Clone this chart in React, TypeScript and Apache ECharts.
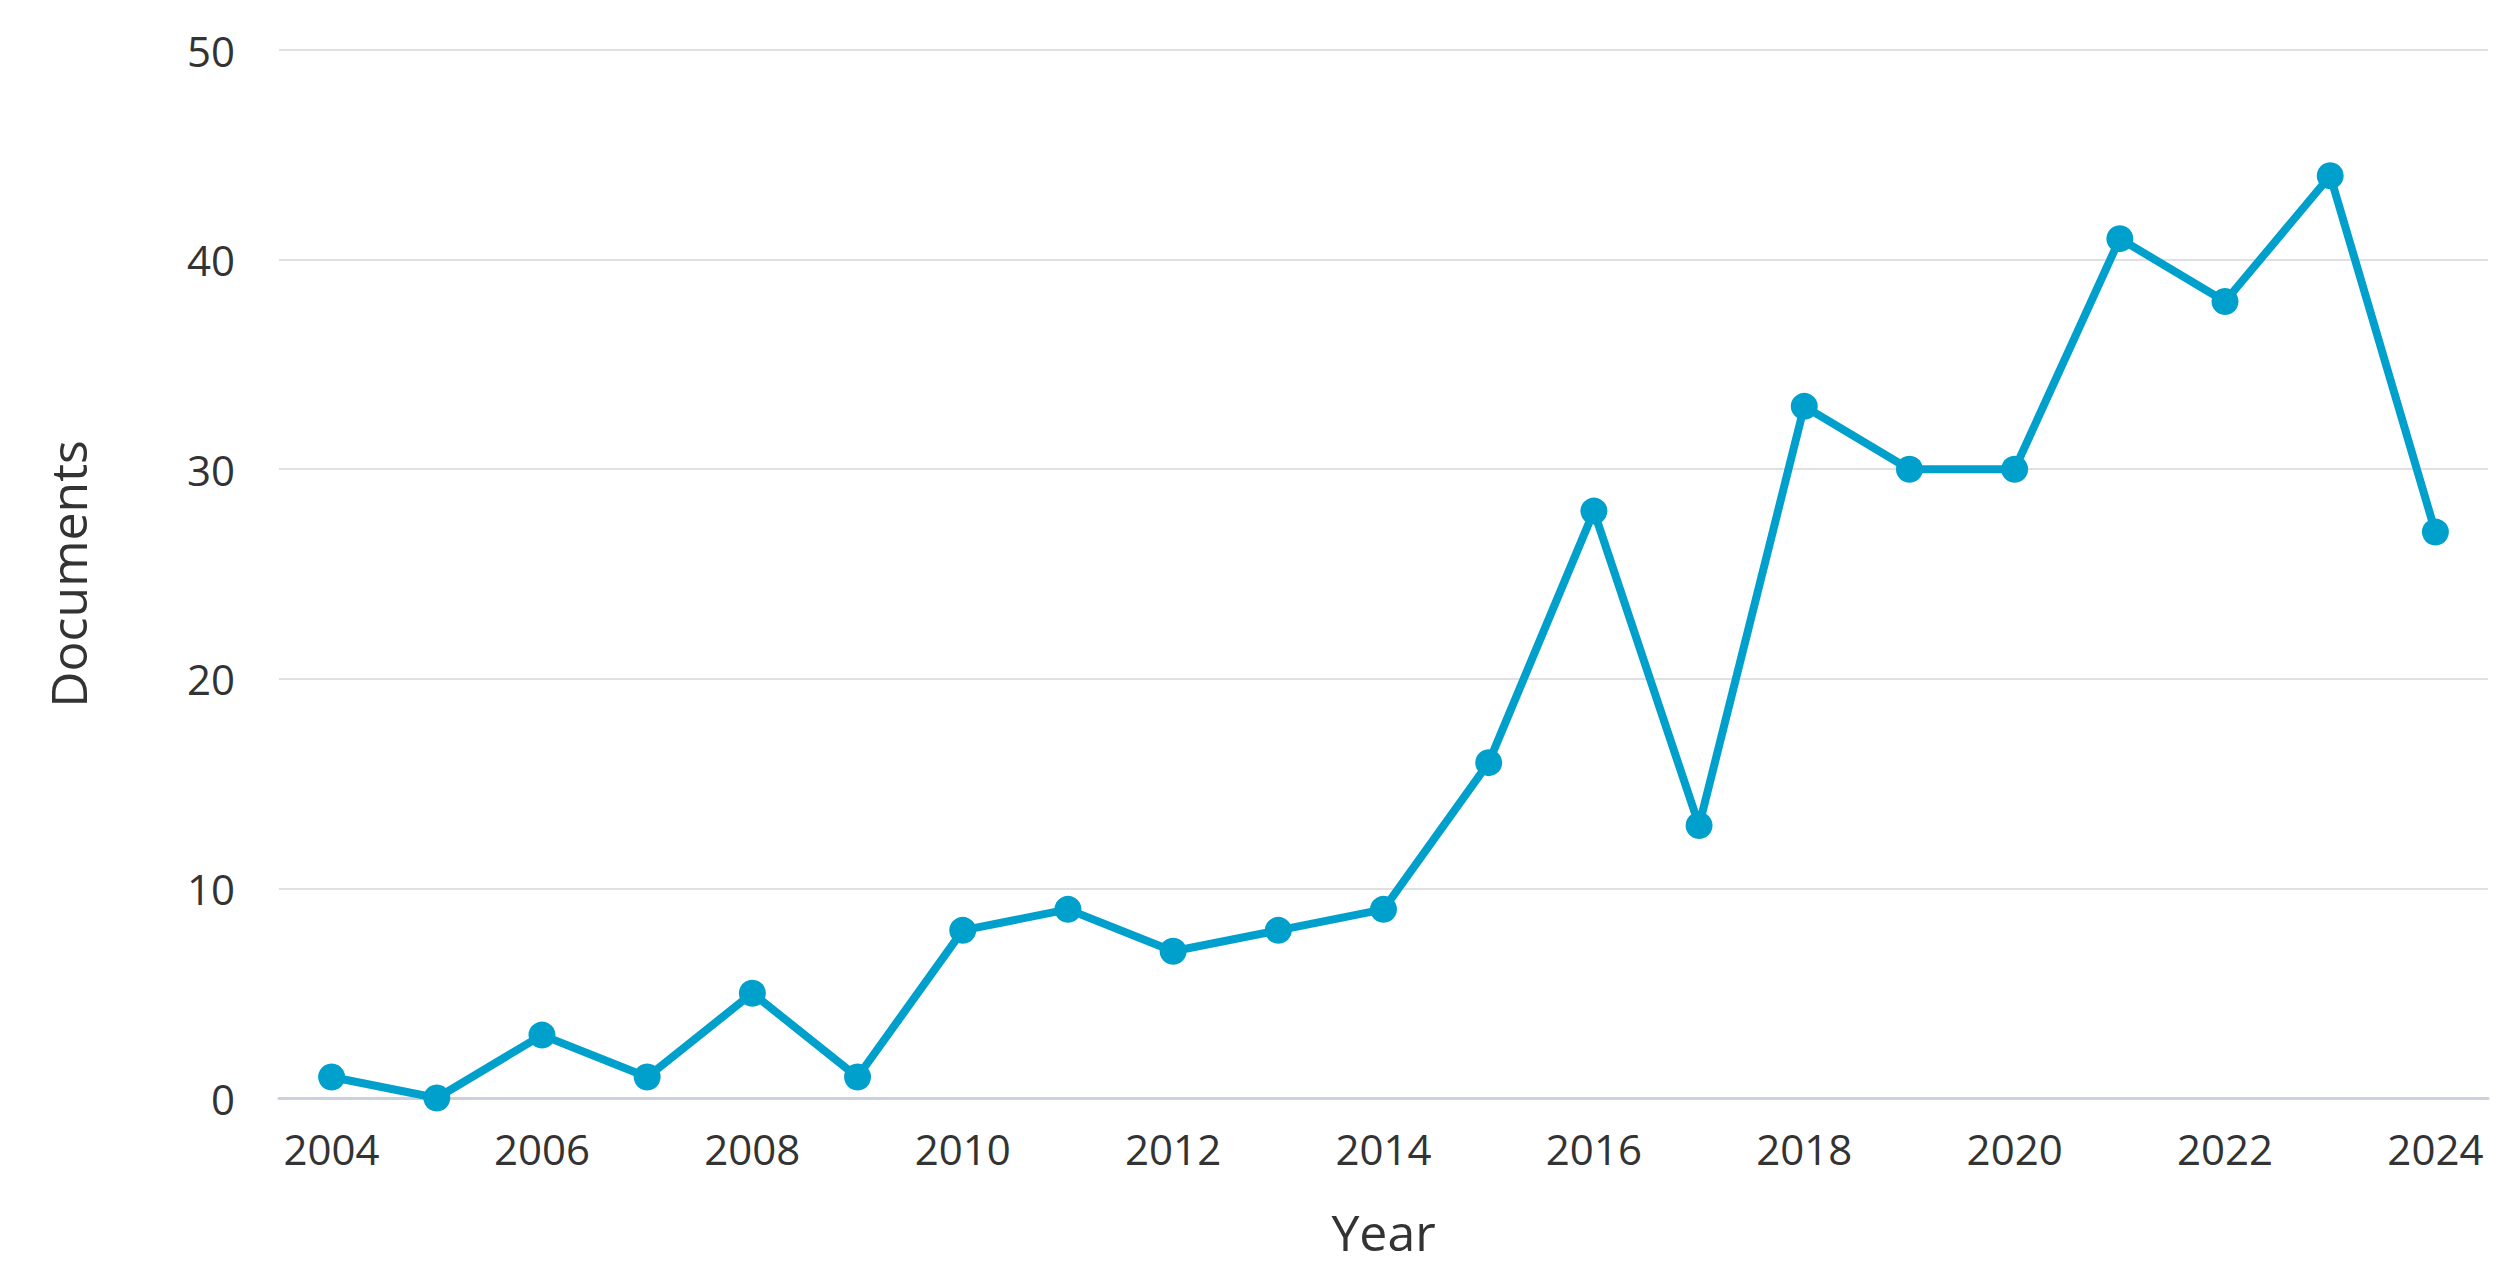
import React, { useEffect, useRef } from "react";
import * as echarts from "echarts";

const years = [
  "2004", "2005", "2006", "2007", "2008", "2009", "2010", "2011", "2012", "2013",
  "2014", "2015", "2016", "2017", "2018", "2019", "2020", "2021", "2022", "2023", "2024",
];
const documents = [1, 0, 3, 1, 5, 1, 8, 9, 7, 8, 9, 16, 28, 13, 33, 30, 30, 41, 38, 44, 27];
const yTicks = [0, 10, 20, 30, 40, 50];

const NUM_FONT = "'Open Sans', 'Noto Sans', sans-serif";
const NAME_FONT = "'Open Sans', 'Noto Sans', sans-serif";

export default function App() {
  const ref = useRef<HTMLDivElement>(null);
  useEffect(() => {
    document.body.style.margin = "0";
    const chart = echarts.init(ref.current!, null, { renderer: "svg" });
    chart.setOption({
      animation: false,
      backgroundColor: "#ffffff",
      grid: { left: 279, right: 32, top: 50, bottom: 182, containLabel: false },
      xAxis: {
        type: "category",
        data: years,
        boundaryGap: true,
        name: "Year",
        nameLocation: "middle",
        nameGap: 109,
        nameTextStyle: { fontFamily: NAME_FONT, fontSize: 50, color: "#333333" },
        axisLine: { show: true, lineStyle: { color: "#ccd0dc", width: 3 } },
        axisTick: { show: false },
        axisLabel: {
          interval: 1,
          margin: 29,
          fontFamily: NUM_FONT,
          fontSize: 42,
          color: "#333333",
        },
        splitLine: { show: false },
      },
      yAxis: {
        type: "value",
        min: yTicks[0],
        max: yTicks[yTicks.length - 1],
        interval: 10,
        name: "Documents",
        nameLocation: "middle",
        nameGap: 186,
        nameTextStyle: { fontFamily: NAME_FONT, fontSize: 50, color: "#333333" },
        axisLine: { show: false },
        axisTick: { show: false },
        axisLabel: {
          margin: 44,
          fontFamily: NUM_FONT,
          fontSize: 42,
          color: "#333333",
        },
        splitLine: { show: true, lineStyle: { color: "#e0e0e0", width: 2 } },
      },
      series: [
        {
          type: "line",
          data: documents,
          symbol: "circle",
          symbolSize: 27,
          itemStyle: { color: "#00a0cc" },
          lineStyle: { color: "#00a0cc", width: 8 },
        },
      ],
    });
    return () => chart.dispose();
  }, []);
  return (
    <div
      ref={ref}
      style={{ position: "absolute", left: 0, top: 0, width: 2520, height: 1280 }}
    />
  );
}
